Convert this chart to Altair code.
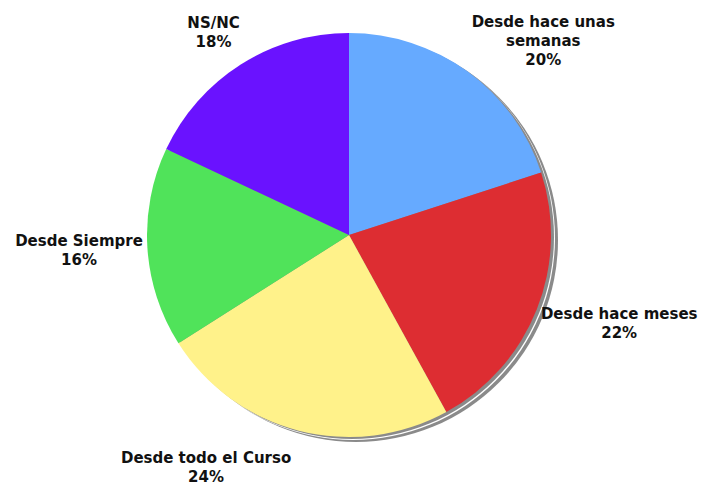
import altair as alt
import pandas as pd

categories = ["Desde hace unas semanas", "Desde hace meses", "Desde todo el Curso",
              "Desde Siempre", "NS/NC"]
label_names = ["Desde hace unas\nsemanas", "Desde hace meses", "Desde todo el Curso",
               "Desde Siempre", "NS/NC"]
values = [20, 22, 24, 16, 18]
colors = ["#66aaff", "#dd2d32", "#fff28a", "#50e35a", "#6a12ff"]

df = pd.DataFrame({
    "cat": categories,
    "name": label_names,
    "value": values,
    "order": list(range(len(values))),
})

W, H = 697, 471
CX, CY = 341, 227
R = 202
A, B, CW, LH = 208, 240, 9.6, 19

base = alt.Chart(df)


def disc(dx, dy, color):
    return base.mark_arc(color=color, radius=R).encode(
        theta=alt.Theta("sum(value):Q"),
        x=alt.value(CX + dx),
        y=alt.value(CY + dy),
    )


pie = base.mark_arc(radius=R).encode(
    theta=alt.Theta("value:Q", stack=True),
    color=alt.Color("cat:N", scale=alt.Scale(domain=categories, range=colors), legend=None),
    order=alt.Order("order:Q"),
    x=alt.value(CX),
    y=alt.value(CY),
)

text = base.transform_joinaggregate(
    total="sum(value)"
).transform_window(
    cum="sum(value)", sort=[alt.SortField("order")], frame=[None, 0]
).transform_calculate(
    mid="2*PI*(datum.cum - datum.value/2)/datum.total",
    pct="format(datum.value/datum.total, '.0%')",
    label="datum.name + '\\n' + datum.pct",
    lines="split(datum.name, '\\n')",
).transform_calculate(
    maxlen="max(length(datum.lines[0]), length(datum.lines[1] || ''))",
    nlines="length(datum.lines) + 1",
).transform_calculate(
    px=f"{CX} + {A}*sin(datum.mid) + (sin(datum.mid) >= 0 ? 1 : -1)*datum.maxlen*{CW}/2",
    py=f"{CY} - {B}*cos(datum.mid) - (datum.nlines - 1)*{LH}/2",
).mark_text(
    font="DejaVu Sans", fontWeight="bold", fontSize=15, color="#111111",
    lineBreak="\n", lineHeight=LH, align="center", baseline="middle",
).encode(
    x=alt.X("px:Q", scale=None),
    y=alt.Y("py:Q", scale=None),
    text="label:N",
)

chart = alt.layer(
    disc(7, 5, "#8a8a8a"),
    disc(4, 3, "#ffffff"),
    disc(3, 2, "#8a8a8a"),
    pie,
    text,
).properties(
    width=W, height=H, padding=0, background="white"
).configure_view(stroke=None)

chart.save("out.html", embed_options={"renderer": "svg", "actions": False})
